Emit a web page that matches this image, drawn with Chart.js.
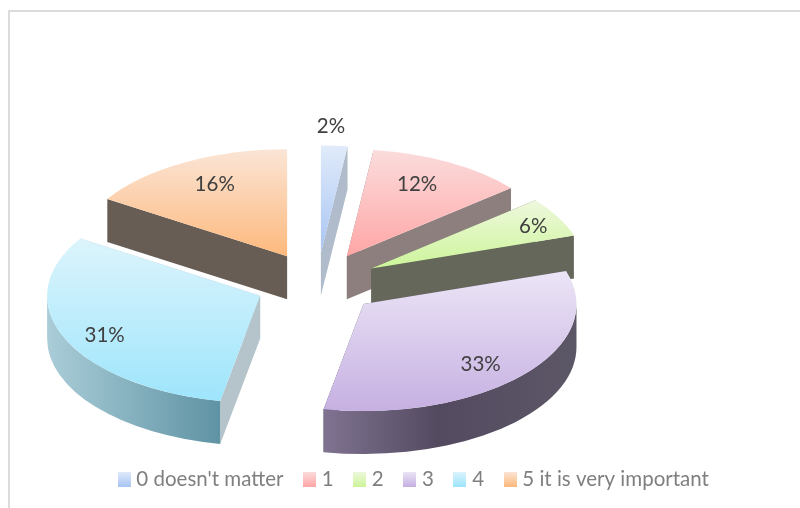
<!DOCTYPE html>
<html>
<head>
<meta charset="utf-8">
<style>
html, body { margin: 0; padding: 0; background: #fff; }
#wrap { position: relative; width: 800px; height: 508px; overflow: hidden; }
#frame { position: absolute; left: 8px; top: 10px; width: 800px; height: 520px; border: 2px solid #dcdcdc; filter: blur(0.5px); }
canvas { position: absolute; left: 0; top: 0; filter: blur(0.5px); }
</style>
<script src="https://cdn.jsdelivr.net/npm/chart.js@4"></script>
</head>
<body>
<div id="wrap">
  <div id="frame"></div>
  <canvas id="chart" width="800" height="508"></canvas>
</div>
<script>
const categories = ["0 doesn't matter", '1', '2', '3', '4', '5 it is very important'];
const percents = [2, 12, 6, 33, 31, 16];

// top face gradients, light end then saturated end
const topLight = ['#e0ebfa', '#fbdcdc', '#eef8dd', '#ece5f6', '#dcf4fc', '#fbe5d6'];
const topDark = ['#a9c5f4', '#ffa6a6', '#cdf59a', '#c6b0e2', '#9ee5fc', '#fdb97d'];
// flat cut faces of each slice
const wallColors = ['#b0bccb', '#8d7f7e', '#64675a', '#5a5266', '#b4c4ca', '#685d55'];
// percent label position from the slice tip, 1 = rim
const labelOutX = [0.047, 0.33, 0.76, 0.55, -0.73, -0.34];
const labelOutY = [-1.18, -0.67, -0.39, 0.56, 0.37, -0.67];
// back slices first so the front ones overlap them
const drawOrder = [5, 0, 1, 2, 4, 3];

const pieX = 317, pieY = 283.5, radiusX = 213, radiusY = 107, depth = 43, explode = 0.291;

function sliceTip(arc) {
    const mid = (arc.startAngle + arc.endAngle) / 2;
    return {
        x: pieX + Math.cos(mid) * radiusX * explode,
        y: pieY + Math.sin(mid) * radiusY * explode
    };
}

function topGradient(context) {
    const area = context.chart.chartArea;
    if (!area) return topDark[context.dataIndex];
    let before = 0;
    percents.slice(0, context.dataIndex).forEach(p => before += p);
    const start = before / 100 * Math.PI * 2 - Math.PI / 2;
    const end = start + percents[context.dataIndex] / 100 * Math.PI * 2;
    let lo = 0, hi = 0;
    for (let k = 0; k <= 40; k++) {
        const s = Math.sin(start + (end - start) * k / 40) * radiusX;
        lo = Math.min(lo, s);
        hi = Math.max(hi, s);
    }
    const cy = (area.top + area.bottom) / 2;
    const g = context.chart.ctx.createLinearGradient(0, cy + lo, 0, cy + hi);
    g.addColorStop(0, topLight[context.dataIndex]);
    g.addColorStop(1, topDark[context.dataIndex]);
    return g;
}

function swatch(i) {
    const c = document.createElement('canvas');
    c.width = 13;
    c.height = 15;
    const x = c.getContext('2d');
    const g = x.createLinearGradient(0, 0, 0, 15);
    g.addColorStop(0, topLight[i]);
    g.addColorStop(1, topDark[i]);
    x.fillStyle = g;
    x.fillRect(0, 0, 13, 15);
    return c;
}

function drawRadialWall(ctx, tip, angle, color) {
    const ex = tip.x + Math.cos(angle) * radiusX;
    const ey = tip.y + Math.sin(angle) * radiusY;
    ctx.fillStyle = color;
    ctx.beginPath();
    ctx.moveTo(tip.x, tip.y);
    ctx.lineTo(ex, ey);
    ctx.lineTo(ex, ey + depth);
    ctx.lineTo(tip.x, tip.y + depth);
    ctx.closePath();
    ctx.fill();
}

function drawRimWall(ctx, tip, arc, i) {
    // only the part of the rim facing the viewer
    const a0 = Math.max(arc.startAngle, 0);
    const a1 = Math.min(arc.endAngle, Math.PI);
    if (a1 <= a0) return;
    const xa = tip.x + Math.cos(a0) * radiusX;
    const xb = tip.x + Math.cos(a1) * radiusX;
    const g = ctx.createLinearGradient(Math.min(xa, xb), 0, Math.max(xa, xb), 0);
    if (i === 3) {
        g.addColorStop(0, '#7f7391');
        g.addColorStop(0.45, '#544a60');
        g.addColorStop(1, '#5c5767');
    } else {
        g.addColorStop(0, '#aacdd8');
        g.addColorStop(1, '#5f93a4');
    }
    ctx.fillStyle = g;
    ctx.beginPath();
    ctx.ellipse(tip.x, tip.y, radiusX, radiusY, 0, a0, a1);
    ctx.ellipse(tip.x, tip.y + depth, radiusX, radiusY, 0, a1, a0, true);
    ctx.closePath();
    ctx.fill();
}

const pie3d = {
    id: 'pie3d',
    beforeDatasetDraw(chart, args) {
        const ctx = chart.ctx;
        drawOrder.forEach(i => {
            const arc = args.meta.data[i];
            const tip = sliceTip(arc);
            drawRadialWall(ctx, tip, arc.startAngle, wallColors[i]);
            drawRadialWall(ctx, tip, arc.endAngle, wallColors[i]);
            drawRimWall(ctx, tip, arc, i);
            // library arc, squashed into the ellipse of the top face
            ctx.save();
            ctx.translate(tip.x, tip.y);
            ctx.scale(1, radiusY / radiusX);
            ctx.translate(-arc.x, -arc.y);
            arc.draw(ctx);
            ctx.restore();
        });
        return false;
    },
    afterDatasetsDraw(chart) {
        const ctx = chart.ctx;
        const arcs = chart.getDatasetMeta(0).data;
        ctx.save();
        ctx.font = '20.5px Lato';
        ctx.fillStyle = '#404040';
        ctx.textAlign = 'center';
        ctx.textBaseline = 'middle';
        arcs.forEach((arc, i) => {
            const tip = sliceTip(arc);
            ctx.fillText(percents[i] + '%',
                tip.x + radiusX * labelOutX[i],
                tip.y + radiusY * labelOutY[i]);
        });
        ctx.restore();
    },
    afterLayout(chart) {
        // legend row sits a bit higher than the library puts it
        chart.legend.top = 478 - 9 - chart.legend.options.labels.padding;
    }
};

new Chart(document.getElementById('chart'), {
    type: 'pie',
    data: {
        labels: categories,
        datasets: [{
            data: percents,
            radius: radiusX,
            backgroundColor: topGradient,
            borderWidth: 0,
            hoverOffset: 0,
            clip: false
        }]
    },
    options: {
        responsive: false,
        animation: false,
        events: [],
        layout: { padding: { left: 31 } },
        plugins: {
            tooltip: { enabled: false },
            legend: {
                position: 'bottom',
                labels: {
                    font: { family: 'Lato', size: 20.5 },
                    color: '#7f7f7f',
                    padding: 24,
                    boxWidth: 4,
                    usePointStyle: true,
                    generateLabels: () => categories.map((text, i) => ({
                        text,
                        index: i,
                        pointStyle: swatch(i),
                        fontColor: '#7f7f7f',
                        lineWidth: 0,
                        hidden: false
                    }))
                }
            }
        }
    },
    plugins: [pie3d]
});
</script>
</body>
</html>
